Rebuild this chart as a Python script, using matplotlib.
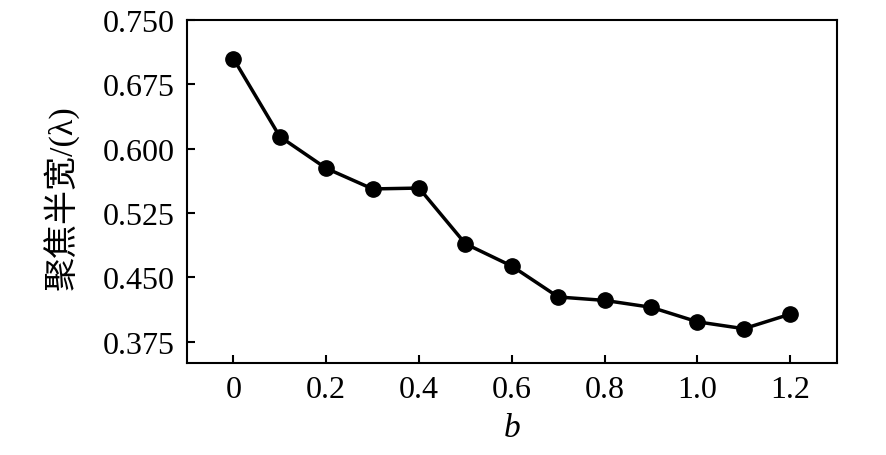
import matplotlib
matplotlib.use("Agg")
import matplotlib.pyplot as plt

b_values = [0, 0.1, 0.2, 0.3, 0.4, 0.5, 0.6, 0.7, 0.8, 0.9, 1.0, 1.1, 1.2]
fwhm = [0.705, 0.614, 0.577, 0.553, 0.554, 0.489, 0.463, 0.427, 0.423, 0.415, 0.398, 0.390, 0.407]
xticks = [0, 0.2, 0.4, 0.6, 0.8, 1.0, 1.2]
xtick_labels = ["0", "0.2", "0.4", "0.6", "0.8", "1.0", "1.2"]
yticks = [0.375, 0.450, 0.525, 0.600, 0.675, 0.750]
ytick_labels = ["0.375", "0.450", "0.525", "0.600", "0.675", "0.750"]

plt.rcParams['font.family'] = ['Liberation Serif', 'Noto Sans CJK SC']

fig = plt.figure(figsize=(8.86, 4.56), dpi=100)
ax = fig.add_axes([187/886, 1-364/456, (836.7-187)/886, (364-21)/456])

ax.plot(b_values, fwhm, color='black', lw=2.5, marker='o', markersize=11)

ax.set_xlim(-0.1, 1.3)
ax.set_ylim(0.350, 0.750)
ax.set_xticks(xticks)
ax.set_xticklabels(xtick_labels)
ax.set_yticks(yticks)
ax.set_yticklabels(ytick_labels)
ax.tick_params(direction='in', length=6, width=1.5, labelsize=23, pad=9)
ax.tick_params(axis='x', pad=9)
for s in ax.spines.values():
    s.set_linewidth(1.5)

ax.set_xlabel('b', fontsize=24, style='italic', labelpad=6)
ax.set_ylabel('聚焦半宽/(λ)', fontsize=24.5)
ax.yaxis.set_label_coords(-0.165, 0.485)

fig.savefig('out.png', dpi=100)
